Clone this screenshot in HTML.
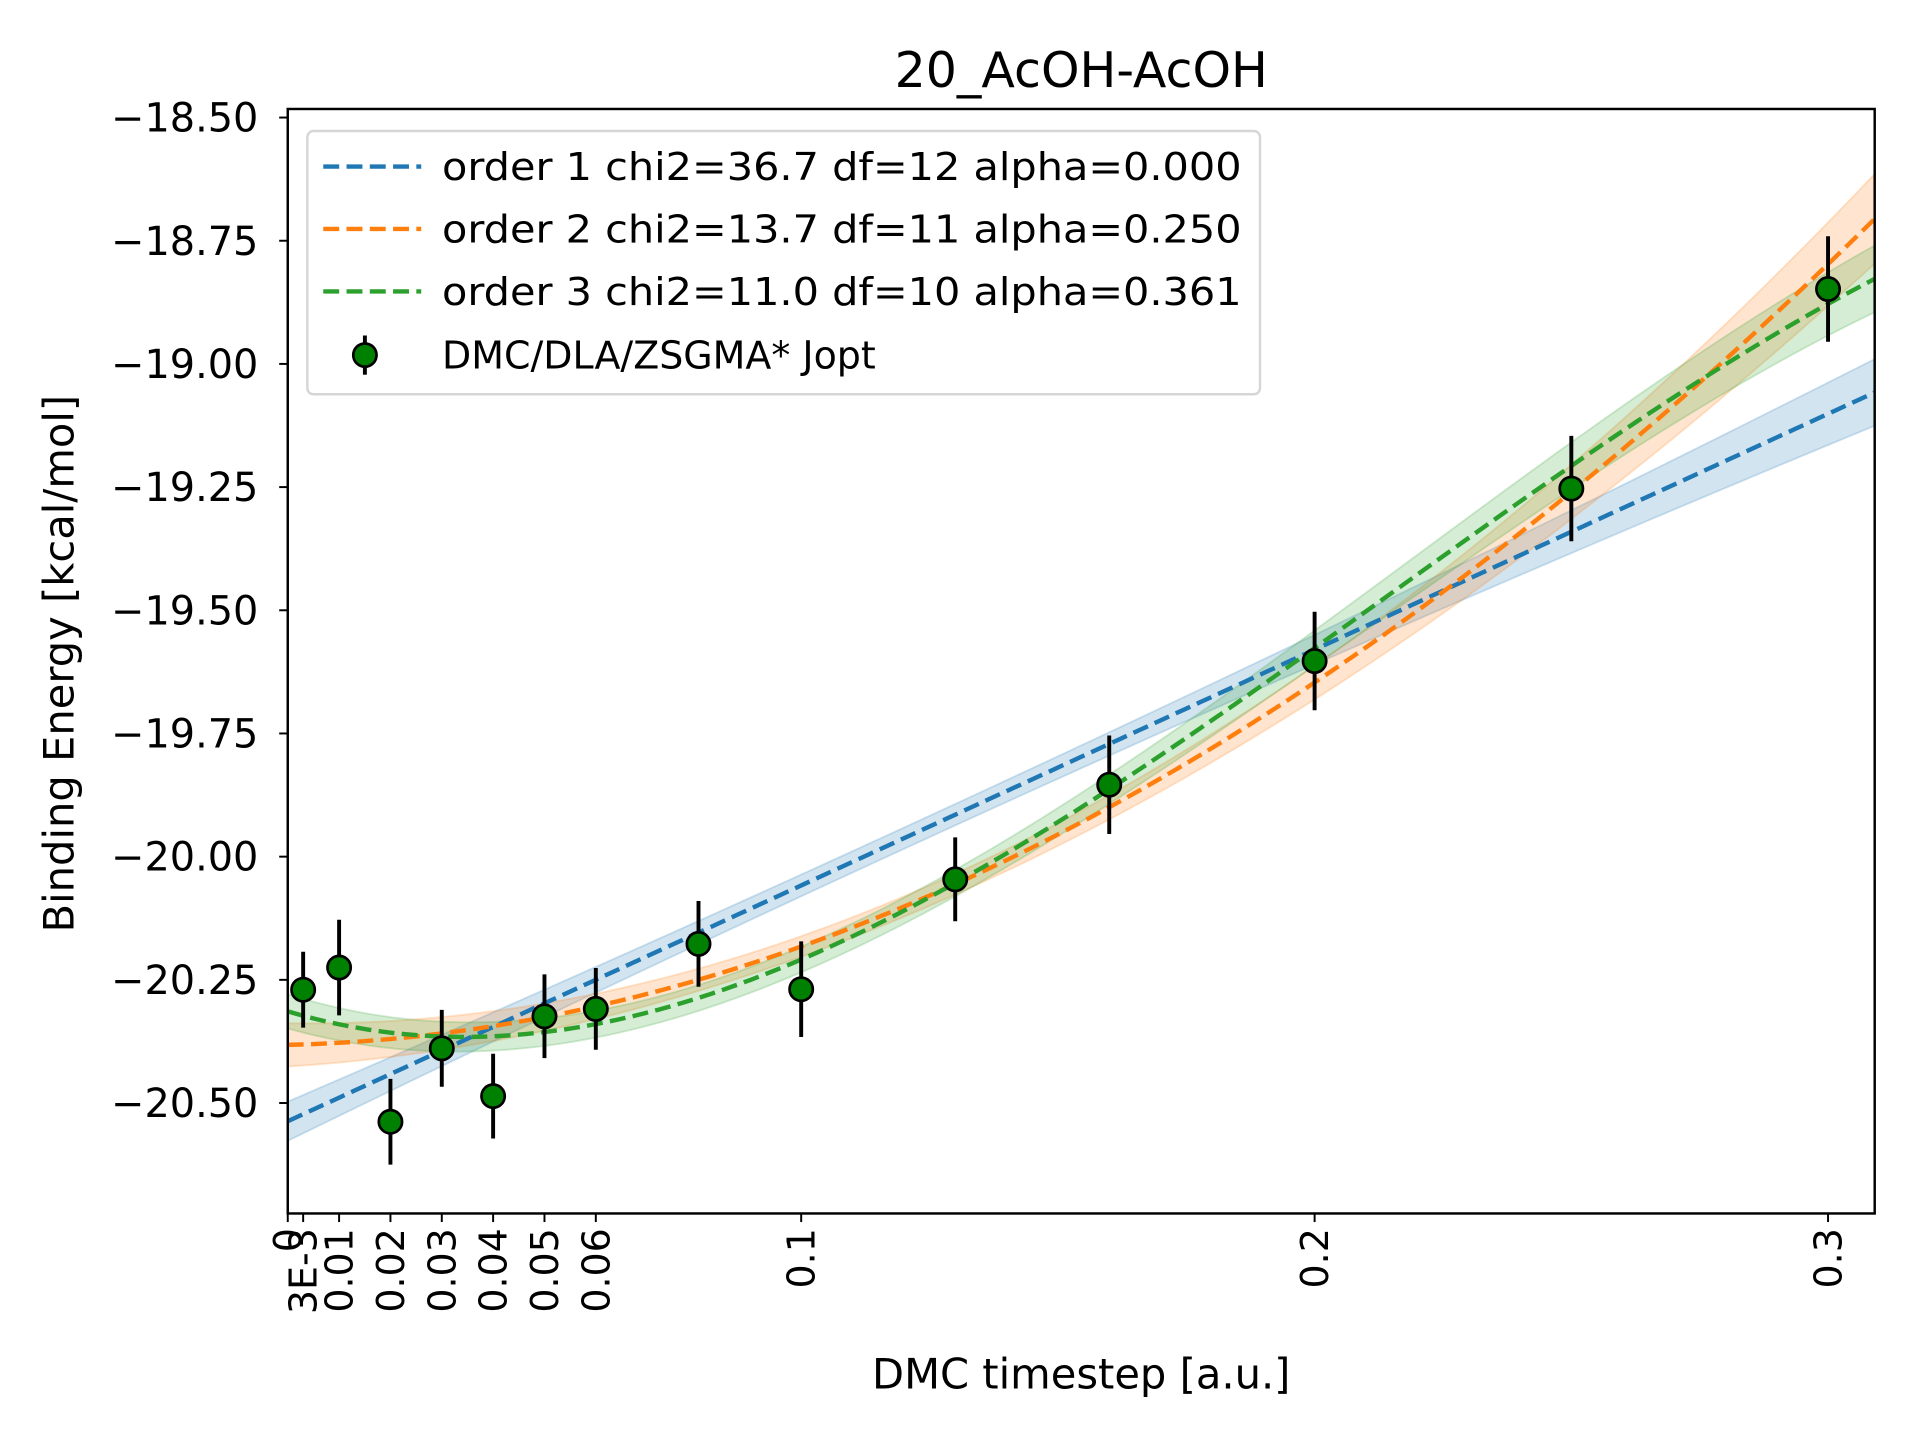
<!DOCTYPE html>
<html><head><meta charset="utf-8">
<style>
html,body{margin:0;padding:0;background:#fff;}
svg{display:block;}
text{font-family:"DejaVu Sans","Liberation Sans",sans-serif;fill:#000;}
</style></head>
<body>
<svg id="chart" width="1920" height="1440" viewBox="0 0 1568 1176" xmlns="http://www.w3.org/2000/svg">
  <rect x="0" y="0" width="1568" height="1176" fill="#fff"/>
  <text x="883" y="71" font-size="40" text-anchor="middle">20_AcOH-AcOH</text>
  <g id="plot"></g>
  <text x="883" y="1134" font-size="34" text-anchor="middle">DMC timestep [a.u.]</text>
  <text transform="translate(60,542) rotate(-90)" font-size="34" text-anchor="middle">Binding Energy [kcal/mol]</text>
</svg>
<script>
// ---- data ----
const pointX = [0.003, 0.01, 0.02, 0.03, 0.04, 0.05, 0.06, 0.08, 0.1, 0.13, 0.16, 0.2, 0.25, 0.3];
const pointY = [-20.27, -20.225, -20.538, -20.389, -20.486, -20.324, -20.309, -20.177, -20.269, -20.046, -19.854, -19.603, -19.253, -18.848];
const pointErr = [0.077, 0.097, 0.087, 0.078, 0.086, 0.085, 0.083, 0.087, 0.097, 0.085, 0.1, 0.1, 0.107, 0.107];

const fit1X = [0, 0.05, 0.1, 0.15, 0.2, 0.25, 0.309];
const fit1Y = [-20.537, -20.298, -20.058, -19.819, -19.580, -19.341, -19.058];
const fit1Err = [0.040, 0.028, 0.022, 0.022, 0.030, 0.045, 0.067];

const fitX = [0, 0.01, 0.02, 0.04, 0.06, 0.08, 0.1, 0.13, 0.16, 0.18, 0.2, 0.25, 0.276, 0.309];
const fit2Y = [-20.381, -20.379, -20.371, -20.344, -20.299, -20.247, -20.195, -20.051, -19.904, -19.772, -19.643, -19.270, -19.024, -18.706];
const fit2Err = [0.045, 0.04, 0.035, 0.028, 0.024, 0.024, 0.024, 0.024, 0.026, 0.03, 0.035, 0.05, 0.06, 0.1];
const fit3Y = [-20.317, -20.334, -20.359, -20.364, -20.344, -20.282, -20.217, -20.048, -19.864, -19.715, -19.583, -19.211, -19.024, -18.828];
const fit3Err = [0.04, 0.035, 0.03, 0.025, 0.025, 0.025, 0.025, 0.025, 0.03, 0.035, 0.04, 0.05, 0.055, 0.065];

const yTicks = [-18.5, -18.75, -19.0, -19.25, -19.5, -19.75, -20.0, -20.25, -20.5];
const yTickLabels = ["\u221218.50", "\u221218.75", "\u221219.00", "\u221219.25", "\u221219.50", "\u221219.75", "\u221220.00", "\u221220.25", "\u221220.50"];
const xTicks = [0, 0.003, 0.01, 0.02, 0.03, 0.04, 0.05, 0.06, 0.1, 0.2, 0.3];
const xTickLabels = ["0", "3E-3", "0.01", "0.02", "0.03", "0.04", "0.05", "0.06", "0.1", "0.2", "0.3"];
const legendLabels = ["order 1 chi2=36.7 df=12 alpha=0.000", "order 2 chi2=13.7 df=11 alpha=0.250", "order 3 chi2=11.0 df=10 alpha=0.361", "DMC/DLA/ZSGMA* Jopt"];

// ---- axes ----
const L = 235, R = 1531, T = 89, B = 991;
const XMAX = 0.309;
const sx = v => L + v * 4193;
const sy = v => 96 + (-18.5 - v) * 402.4;
const NS = "http://www.w3.org/2000/svg";
const plot = document.getElementById('plot');
function mk(tag, attrs, parent) {
  const e = document.createElementNS(NS, tag);
  for (const k in attrs) e.setAttribute(k, attrs[k]);
  (parent || plot).appendChild(e);
  return e;
}
function polyfit(xs, ys, deg) {
  const n = deg + 1;
  const A = Array.from({length: n}, () => new Array(n + 1).fill(0));
  xs.forEach((x, k) => {
    for (let i = 0; i < n; i++) {
      for (let j = 0; j < n; j++) A[i][j] += Math.pow(x, i + j);
      A[i][n] += ys[k] * Math.pow(x, i);
    }
  });
  for (let i = 0; i < n; i++) {
    let p = i;
    for (let r = i + 1; r < n; r++) if (Math.abs(A[r][i]) > Math.abs(A[p][i])) p = r;
    [A[i], A[p]] = [A[p], A[i]];
    for (let r = 0; r < n; r++) {
      if (r === i) continue;
      const f = A[r][i] / A[i][i];
      for (let c = i; c <= n; c++) A[r][c] -= f * A[i][c];
    }
  }
  const co = A.map((row, i) => row[n] / row[i]);
  return x => co.reduce((s, c, i) => s + c * Math.pow(x, i), 0);
}

const clip = mk('clipPath', {id: 'clipA'});
mk('rect', {x: L, y: T, width: R - L, height: B - T}, clip);
const g = mk('g', {'clip-path': 'url(#clipA)'});



const series = [
  {xs: fit1X, ys: fit1Y, es: fit1Err, deg: 1, color: '#1f77b4', name: 'order-1'},
  {xs: fitX, ys: fit2Y, es: fit2Err, deg: 3, color: '#ff7f0e', name: 'order-2'},
  {xs: fitX, ys: fit3Y, es: fit3Err, deg: 3, color: '#2ca02c', name: 'order-3'}
];
const NSAMP = 120;
series.forEach(s => {
  s.f = polyfit(s.xs, s.ys, s.deg);
  s.e = polyfit(s.xs, s.es, 2);
});
series.forEach(s => {
  const up = [], lo = [];
  for (let i = 0; i <= NSAMP; i++) {
    const x = XMAX * i / NSAMP;
    up.push(sx(x).toFixed(2) + ',' + sy(s.f(x) + s.e(x)).toFixed(2));
    lo.push(sx(x).toFixed(2) + ',' + sy(s.f(x) - s.e(x)).toFixed(2));
  }
  const band = mk('path', {d: 'M' + up.join(' L') + ' L' + lo.reverse().join(' L') + ' Z', fill: s.color, 'fill-opacity': 0.2, stroke: s.color, 'stroke-opacity': 0.2, 'stroke-width': 1.5}, g);
  
  
});
series.forEach(s => {
  const c = [];
  for (let i = 0; i <= NSAMP; i++) {
    const x = XMAX * i / NSAMP;
    c.push(sx(x).toFixed(2) + ',' + sy(s.f(x)).toFixed(2));
  }
  const line = mk('path', {d: 'M' + c.join(' L'), fill: 'none', stroke: s.color, 'stroke-width': 3.6, 'stroke-dasharray': '13,6'}, g);
  
  
});
pointX.forEach((x, i) => {
  const eb = mk('line', {x1: sx(x), x2: sx(x), y1: sy(pointY[i] + pointErr[i]), y2: sy(pointY[i] - pointErr[i]), stroke: '#000', 'stroke-width': 3.2}, g);
  
  
});
pointX.forEach((x, i) => {
  const c = mk('circle', {cx: sx(x), cy: sy(pointY[i]), r: 9.5, fill: '#008000', stroke: '#000', 'stroke-width': 2.2}, g);
  
  
});

const frame = mk('rect', {x: L, y: T, width: R - L, height: B - T, fill: 'none', stroke: '#000', 'stroke-width': 2});



yTicks.forEach((v, i) => {
  const tk = mk('line', {x1: L - 7, x2: L, y1: sy(v), y2: sy(v), stroke: '#000', 'stroke-width': 1.6});
  
  
  const t = mk('text', {x: L - 24, y: sy(v) + 11.5, 'font-size': 32.5, 'text-anchor': 'end'});
  t.textContent = yTickLabels[i];
  
  
});
xTicks.forEach((v, i) => {
  const tk = mk('line', {x1: sx(v), x2: sx(v), y1: B, y2: B + 7, stroke: '#000', 'stroke-width': 1.6});
  
  
  const t = mk('text', {transform: 'translate(' + (sx(v) + 11) + ',' + (B + 12) + ') rotate(-90)', 'font-size': 31, 'text-anchor': 'end'});
  t.textContent = xTickLabels[i];
  
  
});

const lg = mk('g', {});


mk('rect', {x: 251, y: 107, width: 778, height: 215, rx: 5, fill: '#fff', 'fill-opacity': 0.8, stroke: '#d6d6d6', 'stroke-width': 2}, lg);
const legColors = ['#1f77b4', '#ff7f0e', '#2ca02c'];
const rowsY = [136, 187, 238, 290];
legendLabels.forEach((lab, i) => {
  const ry = rowsY[i];
  if (i < 3) {
    const ln = mk('line', {x1: 264, x2: 344, y1: ry, y2: ry, stroke: legColors[i], 'stroke-width': 3.6, 'stroke-dasharray': '13,6'}, lg);
    
    
  } else {
    mk('line', {x1: 298, x2: 298, y1: ry - 16, y2: ry + 16, stroke: '#000', 'stroke-width': 3.2}, lg);
    mk('circle', {cx: 298, cy: ry, r: 9.5, fill: '#008000', stroke: '#000', 'stroke-width': 2.2}, lg);
  }
  const attrs = {x: 361, y: ry + 11, 'font-size': 31};
  if (i < 3) { attrs.textLength = 653; attrs.lengthAdjust = 'spacingAndGlyphs'; }
  const t = mk('text', attrs, lg);
  t.textContent = lab;
  
  
});
</script>
</body></html>
